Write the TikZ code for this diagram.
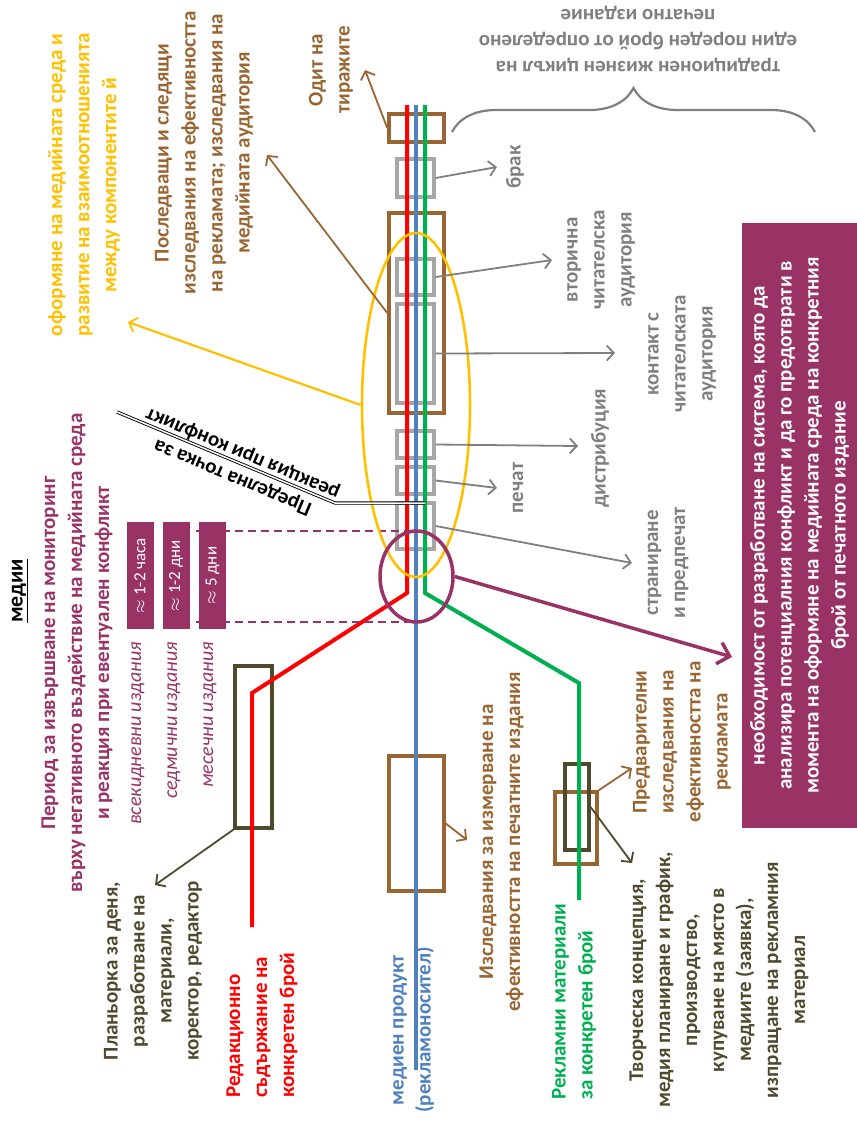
\documentclass[tikz,border=0pt]{standalone}
\usepackage{fontspec}
\setmainfont{Carlito}
\usetikzlibrary{arrows.meta,decorations.pathreplacing,shapes.geometric}
\definecolor{cred}{RGB}{255,0,0}
\definecolor{cblue}{RGB}{79,129,189}
\definecolor{cgreen}{RGB}{0,176,80}
\definecolor{cbrown}{RGB}{153,102,51}
\definecolor{cgray}{RGB}{127,127,127}
\definecolor{cgraybox}{RGB}{166,166,166}
\definecolor{cyellow}{RGB}{255,192,0}
\definecolor{cpurple}{RGB}{153,51,102}
\definecolor{colive}{RGB}{79,74,45}
\begin{document}
\begin{tikzpicture}[x=1pt,y=-1pt,
  lbl/.style={rotate=90, align=center, inner sep=0pt, font=\fontsize{21}{27}\selectfont\bfseries},
  brownbox/.style={draw=cbrown, line width=3.5pt, minimum width=55pt, inner sep=0pt},
  graybox/.style={draw=cgraybox, line width=3.4pt, minimum width=37pt, inner sep=0pt},
  olivebox/.style={draw=colive, line width=3.2pt, inner sep=0pt},
  track/.style={line width=4pt},
  arr/.style={-{Straight Barb[length=7pt,width=15pt,line width=1.8pt]}, line width=1.8pt},
  pbox/.style={rotate=90, fill=cpurple, minimum width=107pt, minimum height=27pt, inner sep=0pt, text=white, font=\fontsize{17}{20}\selectfont},
  edition/.style={rotate=90, anchor=east, inner sep=0pt, text=cpurple, font=\fontsize{20}{24}\selectfont\itshape},
]
\useasboundingbox (0,0) rectangle (857,1125);

% ---- boxes ----
\node[brownbox, minimum height=28pt] (bTop) at (416.5,128) {};
\node[brownbox, minimum height=200pt] (bBig) at (416.5,313) {};
\node[brownbox, minimum height=135pt] (bBlue) at (416.5,823.5) {};
\node[brownbox, minimum width=42pt, minimum height=72pt] (bGreen) at (576,828) {};
\node[graybox, minimum height=38pt] (g1) at (415.5,178) {};
\node[graybox, minimum height=36pt] (g2) at (415.5,277) {};
\node[graybox, minimum height=99pt] (g3) at (415.5,353.5) {};
\node[graybox, minimum height=27pt] (g4) at (415.5,444.5) {};
\node[graybox, minimum height=27pt] (g5) at (415.5,480.5) {};
\node[graybox, minimum height=46pt] (g6) at (415.5,526) {};
\node[olivebox, minimum width=37pt, minimum height=162pt] (oRed) at (253.5,747) {};
\node[olivebox, minimum width=24pt, minimum height=86pt] (oGreen) at (577,807) {};

% ---- tracks ----
\coordinate (rTop) at (407,105);
\coordinate (rBend) at (407,593);
\coordinate (rKnee) at (252,693);
\coordinate (rEnd) at (252,927);
\coordinate (blTop) at (416,105);
\coordinate (blEnd) at (416,1070);
\coordinate (gTop) at (425,105);
\coordinate (gBend) at (425,593);
\coordinate (gKnee) at (579,683);
\coordinate (gEnd) at (579,900);
\draw[track, cblue] (blTop) -- (blEnd);
\draw[track, cred] (rTop) -- (rBend) -- (rKnee) -- (rEnd);
\draw[track, cgreen] (gTop) -- (gBend) -- (gKnee) -- (gEnd);

% ---- dashed period lines ----
\coordinate (d1a) at (196,531);
\coordinate (d1b) at (414,531);
\coordinate (d2a) at (196,622);
\coordinate (d2b) at (414,622);
\draw[cpurple, line width=1.3pt, dash pattern=on 8pt off 5pt] (d1a) -- (d1b);
\draw[cpurple, line width=1.3pt, dash pattern=on 8pt off 5pt] (d2a) -- (d2b);

% ---- ellipses ----
\node[draw=cyellow, line width=2.6pt, ellipse, minimum width=108pt, minimum height=344pt, inner sep=0pt] (ellY) at (416,405) {};
\node[draw=cpurple, line width=3.5pt, ellipse, minimum width=73pt, minimum height=91pt, inner sep=0pt] (ellP) at (416.5,576.5) {};

% ---- brace ----
\draw[cgray, line width=2.2pt, decorate, decoration={brace, amplitude=44pt}] (452,132) -- (815,132);

% ---- arrow end points ----
\coordinate (eOdit) at (365,70);
\coordinate (eSled) at (267,155);
\coordinate (eYel) at (128,322);
\coordinate (eBrak) at (497,167);
\coordinate (eVtor) at (552,260);
\coordinate (eKont) at (615,353);
\coordinate (eDist) at (578,446);
\coordinate (ePech) at (497,488);
\coordinate (eStr) at (632,563);
\coordinate (ePurp) at (732,657);
\coordinate (ePlan) at (155,885);
\coordinate (eIzsl) at (467,840);
\coordinate (ePred) at (632,768);
\coordinate (eTvor) at (632,863);

\draw[arr, cbrown] (bTop.west) -- (eOdit);
\draw[arr, cbrown] (bBig.west) -- (eSled);
\draw[arr, cyellow, line width=2.2pt] (ellY.west) -- (eYel);
\draw[arr, cgray] (g1.east) -- (eBrak);
\draw[arr, cgray] (g2.east) -- (eVtor);
\draw[arr, cgray] (g3.east) -- (eKont);
\draw[arr, cgray] (g4.east) -- (eDist);
\draw[arr, cgray] (g5.east) -- (ePech);
\draw[arr, cgray] (g6.east) -- (eStr);
\draw[cpurple, line width=3.5pt, -{Straight Barb[length=11pt,width=22pt,line width=3.5pt]}] (ellP.east) -- (ePurp);
\draw[arr, colive] (oRed.south west) -- (ePlan);
\draw[arr, cbrown] (bBlue.east) -- (eIzsl);
\draw[arr, cbrown] (bGreen.north east) -- (ePred);
\draw[arr, colive] (oGreen.east) -- (eTvor);

% ---- limit line ----
\coordinate (lA) at (425,503);
\coordinate (lB) at (335,503);
\coordinate (lC) at (117,412);
\draw[black, line width=0.9pt, double=white, double distance=1.5pt] (lA) -- (lB) -- (lC);

% ---- texts ----
\node[lbl, text=cyellow] (tYel) at (84,185) {оформяне на медийната среда и\\развитие на взаимоотношенията\\между компонентите й};
\node[lbl, text=cbrown] (tSled) at (204,153) {Последващи и следящи\\изследвания на ефективността\\на рекламата; изследвания на\\медийната аудитория};
\node[lbl, text=cbrown] (tOdit) at (331,70) {Одит на\\тиражите};
\node[rotate=180, align=center, inner sep=0pt, font=\fontsize{21}{26}\selectfont\bfseries, text=cgray] (tCycle) at (638,39) {традиционен жизнен цикъл на\\един пореден брой от определено\\печатно издание};
\node[lbl, text=cgray] (tBrak) at (515,167) {брак};
\node[lbl, text=cgray] (tVtor) at (601,260) {вторична\\читателска\\аудитория};
\node[lbl, text=cgray] (tKont) at (682,354) {контакт с\\читателската\\аудитория};
\node[lbl, text=cgray] (tDist) at (600,448) {дистрибуция};
\node[lbl, text=cgray] (tPech) at (518,488) {печат};
\node[lbl, text=cgray] (tStr) at (668,563) {страниране\\и предпечат};
\node[lbl, fill=cpurple, text=white, minimum width=605pt, minimum height=115pt] (tNeed) at (799.5,525.5) {необходимост от разработване на система, която да\\анализира потенциалния конфликт и да го предотврати в\\момента на оформяне на медийната среда на конкретния\\брой от печатното издание};
\node[rotate=157.3, align=center, inner sep=0pt, font=\fontsize{21}{26}\selectfont\bfseries, text=black] (tLimit) at (238,465) {Пределна точка за\\реакция при конфликт};
\node[lbl, text=black, font=\fontsize{22}{27}\selectfont\bfseries] (tMedia) at (20,591) {\underline{медии}};
\node[lbl, text=cpurple] (tPeriod) at (77,653) {Период за извършване на мониторинг\\върху негативното въздействие на медийната среда\\и реакция при евентуален конфликт};
\node[pbox] (p1) at (140,575.5) {$\approx$ 1-2 часа};
\node[pbox] (p2) at (176,575.5) {$\approx$ 1-2 дни};
\node[pbox] (p3) at (212.5,575.5) {$\approx$ 5 дни};
\node[edition] (e1) at (138,642) {всекидневни издания};
\node[edition] (e2) at (174,642) {седмични издания};
\node[edition] (e3) at (210,642) {месечни издания};
\node[lbl, text=colive] (tPlan) at (153,971) {Планьорка за деня,\\разработване на\\материали,\\коректор, редактор};
\node[lbl, text=cred, align=left, anchor=west] (tRed) at (262,1098) {Редакционно\\съдържание на\\конкретен брой};
\node[lbl, text=cblue] (tBlue) at (413.5,1030) {медиен продукт\\(рекламоносител)};
\node[lbl, text=cbrown] (tIzsl) at (501.5,842) {Изследвания за измерване на\\ефективността на печатните издания};
\node[lbl, text=cgreen, align=left, anchor=west] (tGreen) at (574,1100) {Рекламни материали\\за конкретен брой};
\node[lbl, text=cbrown] (tPred) at (682,742) {Предварителни\\изследвания на\\ефективността на\\рекламата};
\node[lbl, text=colive] (tTvor) at (719,980) {Творческа концепция,\\медия планиране и график,\\производство,\\купуване на място в\\медиите (заявка),\\изпращане на рекламния\\материал};
\end{tikzpicture}
\end{document}
